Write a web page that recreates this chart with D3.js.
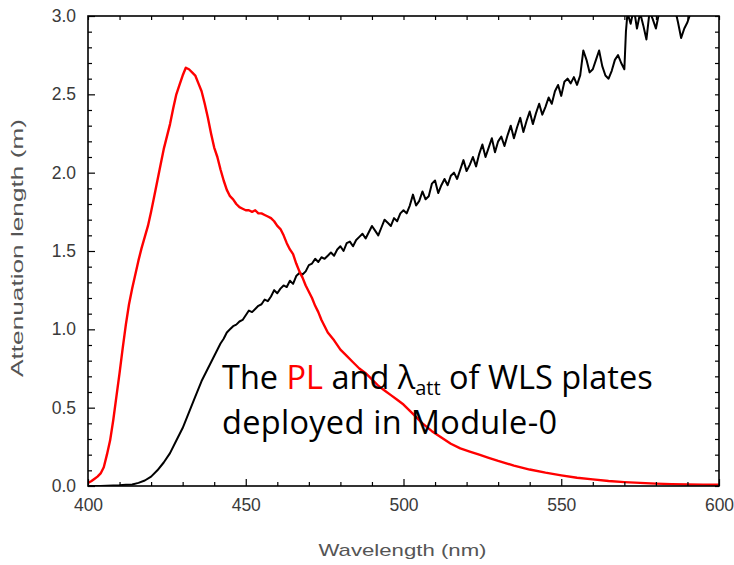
<!DOCTYPE html>
<html><head><meta charset="utf-8">
<script src="https://cdn.jsdelivr.net/npm/d3@7"></script>
<style>body{margin:0;background:#fff}svg{display:block}</style>
</head><body>
<svg id="c" width="734" height="565"></svg>
<script>
// ---- data ----
const xDomain = [400, 600];
const yDomain = [0, 3];
const xMajorTicks = [400, 450, 500, 550, 600];
const yMajorTicks = [0, 0.5, 1.0, 1.5, 2.0, 2.5, 3.0];
const xTitle = "Wavelength (nm)";
const yTitle = "Attenuation length (m)";

// PL spectrum (red): [wavelength nm, value]
const plWavelength = [400,401,402,403,404,405,406,407,408,409,410,411,412,413,414,415,416,417,418,419,420,421,422,423,424,425,426,427,428,429,430,431,432,433,434,435,436,437,438,439,440,441,442,443,444,445,446,447,448,449,450,451,452,453,454,455,456,457,458,459,460,461,462,463,464,465,466,467,468,469,470,471,472,473,474,475,476,478,480,482,484,486,488,490,492,494,496,498,500,503,506,509,512,515,518,521,524,527,530,535,540,545,550,555,560,565,570,575,580,585,590,595,600];
const plValue = [0.02,0.03,0.045,0.06,0.08,0.12,0.2,0.29,0.42,0.57,0.72,0.88,1.03,1.16,1.26,1.35,1.44,1.52,1.59,1.66,1.75,1.85,1.95,2.05,2.15,2.23,2.31,2.41,2.5,2.56,2.62,2.67,2.66,2.64,2.62,2.57,2.52,2.44,2.35,2.25,2.16,2.1,2.02,1.95,1.89,1.85,1.83,1.8,1.78,1.77,1.76,1.76,1.75,1.76,1.74,1.74,1.73,1.72,1.71,1.69,1.66,1.64,1.6,1.55,1.51,1.48,1.42,1.37,1.33,1.28,1.24,1.2,1.15,1.11,1.06,1.02,0.98,0.93,0.87,0.83,0.79,0.75,0.72,0.68,0.64,0.61,0.58,0.55,0.52,0.46,0.4,0.35,0.31,0.27,0.24,0.22,0.2,0.18,0.16,0.13,0.105,0.085,0.068,0.053,0.042,0.032,0.025,0.02,0.015,0.012,0.01,0.009,0.008];

// Attenuation length (black): [wavelength nm, value in m]
const attWavelength = [400,404,408,410,412,414,416,418,420,422,424,426,428,430,432,434,436,438,440,441,442,443,444,445,446,447,448,449,450,451,452,453,454,455,456,457,458,459,460,461,462,463,464,465,466,467,468,469,470,471,472,473,474,475,476,477,478,479,480,481,482,483,484,485,486,487,488,489,490,491,492,493,494,495,496,497,498,499,500,501,502,503,504,505,506,507,508,509,510,511,512,513,514,515,516,517,518,519,520,521,522,523,524,525,526,527,528,529,530,531,532,533,534,535,536,537,538,539,540,541,542,543,544,545,546,547,548,549,550,551,552,553,554,555,556,557,558,559,560,561,562,563,564,565,566,567,568,569,570,570.5,571,572,573,574,575,576,577,578,579,580,581,582,584,586,587,588,589,590,591,593,600];
const attValue = [0.0,0.0,0.003,0.005,0.008,0.01,0.02,0.035,0.06,0.1,0.15,0.21,0.29,0.37,0.47,0.57,0.67,0.75,0.83,0.87,0.91,0.94,0.98,1.0,1.02,1.03,1.05,1.06,1.09,1.12,1.11,1.13,1.15,1.16,1.19,1.18,1.21,1.25,1.23,1.26,1.28,1.27,1.31,1.29,1.34,1.36,1.35,1.37,1.41,1.42,1.45,1.43,1.46,1.45,1.47,1.49,1.47,1.51,1.53,1.5,1.55,1.56,1.53,1.57,1.59,1.61,1.58,1.62,1.66,1.63,1.6,1.65,1.7,1.68,1.66,1.71,1.69,1.74,1.76,1.74,1.79,1.86,1.79,1.82,1.88,1.83,1.85,1.93,1.95,1.87,1.92,1.96,1.92,1.98,2.0,1.96,2.02,2.08,2.01,2.05,2.1,2.04,2.12,2.18,2.1,2.16,2.22,2.13,2.2,2.23,2.17,2.24,2.3,2.22,2.29,2.35,2.26,2.33,2.39,2.31,2.38,2.44,2.37,2.42,2.48,2.44,2.52,2.56,2.49,2.58,2.6,2.57,2.61,2.56,2.62,2.78,2.72,2.64,2.66,2.72,2.78,2.68,2.62,2.6,2.65,2.72,2.75,2.7,2.66,2.9,3.02,2.95,3.05,2.92,3.02,2.94,2.85,3.03,2.98,2.92,3.02,3.08,3.12,3.05,2.96,2.86,2.92,2.96,3.02,3.1,3.15];

// ---- drawing ----
const svg = d3.select("#c");
const L = 88, R = 719, T = 16, B = 486;
const x = d3.scaleLinear().domain(xDomain).range([L, R]);
const y = d3.scaleLinear().domain(yDomain).range([B, T]);

const xMinor = d3.range(400, 601, 10).filter(v => !xMajorTicks.includes(v));
const yMinor = d3.range(0, 31, 1).map(v => v / 10).filter(v => !yMajorTicks.some(m => Math.abs(m - v) < 1e-9));

svg.append("defs").append("clipPath").attr("id", "clip")
  .append("rect").attr("x", L).attr("y", T).attr("width", R - L).attr("height", B - T);

const plot = svg.append("g").attr("clip-path", "url(#clip)");
const line = d3.line().x(d => x(d[0])).y(d => y(d[1]));
const plData = plWavelength.map((w, i) => [w, plValue[i]]);
const attData = attWavelength.map((w, i) => [w, attValue[i]]);

plot.append("path").datum(attData).attr("d", line)
  .attr("fill", "none").attr("stroke", "#000").attr("stroke-width", 2).attr("stroke-linejoin", "round");
plot.append("path").datum(plData).attr("d", line)
  .attr("fill", "none").attr("stroke", "#ff0000").attr("stroke-width", 2.4).attr("stroke-linejoin", "round");

function styleAxis(g) {
  g.select(".domain").remove();
  g.selectAll("line").attr("stroke", "#000").attr("stroke-width", 1.2);
  g.selectAll("text").attr("fill", "#3a3a3a").attr("font-family", "'Liberation Sans', Arial, sans-serif").attr("font-size", 17.5);
}
const fmt = d3.format(".1f");
// bottom
svg.append("g").attr("transform", `translate(0,${B})`)
  .call(d3.axisBottom(x).tickValues(xMajorTicks).tickSizeInner(-7).tickSizeOuter(0).tickPadding(13).tickFormat(d3.format("d")))
  .call(styleAxis);
svg.append("g").attr("transform", `translate(0,${B})`)
  .call(d3.axisBottom(x).tickValues(xMinor).tickSizeInner(-4).tickSizeOuter(0).tickFormat(""))
  .call(styleAxis);
// top
svg.append("g").attr("transform", `translate(0,${T})`)
  .call(d3.axisTop(x).tickValues(xMajorTicks.concat(xMinor)).tickSizeInner(-4).tickSizeOuter(0).tickFormat(""))
  .call(styleAxis);
// left
svg.append("g").attr("transform", `translate(${L},0)`)
  .call(d3.axisLeft(y).tickValues(yMajorTicks).tickSizeInner(-7).tickSizeOuter(0).tickPadding(12).tickFormat(fmt))
  .call(styleAxis);
svg.append("g").attr("transform", `translate(${L},0)`)
  .call(d3.axisLeft(y).tickValues(yMinor).tickSizeInner(-4).tickSizeOuter(0).tickFormat(""))
  .call(styleAxis);
// right
svg.append("g").attr("transform", `translate(${R},0)`)
  .call(d3.axisRight(y).tickValues(yMajorTicks.concat(yMinor)).tickSizeInner(-4).tickSizeOuter(0).tickFormat(""))
  .call(styleAxis);

// frame
svg.append("rect").attr("x", L).attr("y", T).attr("width", R - L).attr("height", B - T)
  .attr("fill", "none").attr("stroke", "#000").attr("stroke-width", 1.6);

// titles
svg.append("text").attr("x", (L + R) / 2 - 1).attr("y", 556).attr("text-anchor", "middle")
  .attr("font-family", "'Liberation Sans', Arial, sans-serif").attr("font-size", 17).attr("fill", "#555")
  .attr("textLength", 168).attr("lengthAdjust", "spacingAndGlyphs")
  .text(xTitle);
svg.append("text").attr("transform", "translate(23,248) rotate(-90)").attr("text-anchor", "middle")
  .attr("font-family", "'Liberation Sans', Arial, sans-serif").attr("font-size", 17).attr("fill", "#555")
  .attr("textLength", 258).attr("lengthAdjust", "spacingAndGlyphs")
  .text(yTitle);

// annotation
const ann = svg.append("g").attr("font-family", "'Open Sans', 'Noto Sans', sans-serif").attr("fill", "#000");
const t1 = ann.append("text").attr("x", 222).attr("y", 389).attr("font-size", 32.5);
t1.append("tspan").text("The ");
t1.append("tspan").attr("fill", "#ff0000").text("PL");
t1.append("tspan").text(" and λ");
t1.append("tspan").attr("font-size", 20).attr("dy", 6).text("att");
t1.append("tspan").attr("dy", -6).text(" of WLS plates");
ann.append("text").attr("x", 222).attr("y", 434).attr("font-size", 32.5).attr("textLength", 335).attr("lengthAdjust", "spacing").text("deployed in Module-0");
</script>
</body></html>
